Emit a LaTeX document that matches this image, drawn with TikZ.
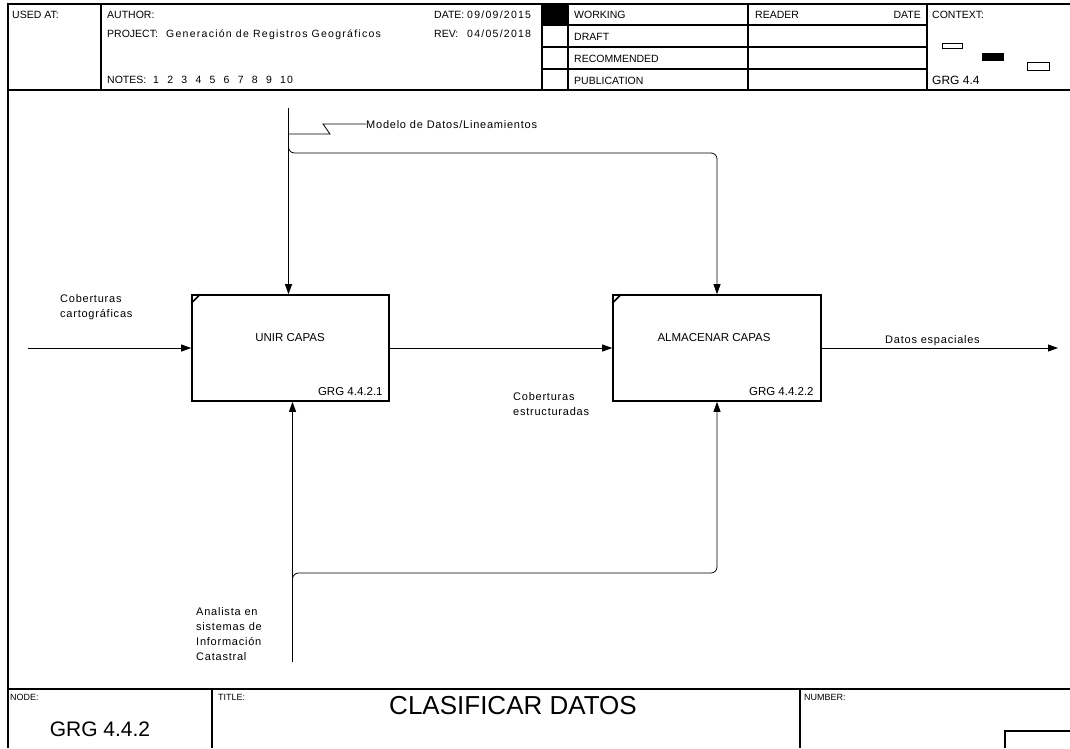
\documentclass[tikz,border=0pt]{standalone}
\usepackage{fontspec}
\setmainfont{Liberation Sans}
\newfontfamily\hdrwide[LetterSpace=12]{Liberation Sans}
\newfontfamily\lblwide[LetterSpace=7]{Liberation Sans}
\usepackage{tikz}
\usetikzlibrary{positioning}
\usetikzlibrary{arrows.meta}

\begin{document}
\begin{tikzpicture}[x=1pt,y=-1pt,
frame/.style={line width=1.2pt},
procbox/.style={rectangle,draw,line width=1.6pt,minimum height=106,inner sep=0},
flow/.style={line width=0.8pt,-{Triangle[length=10pt,width=7pt]}},
hdr/.style={font=\fontsize{10.5}{12}\selectfont,inner sep=0,anchor=base west},
hdrval/.style={font=\hdrwide\fontsize{10.5}{12}\selectfont,inner sep=0,anchor=base west},
boxname/.style={font=\fontsize{11.5}{14}\selectfont,inner sep=0,anchor=base},
boxnum/.style={font=\fontsize{11.5}{14}\selectfont,inner sep=0,anchor=base east},
lbl/.style={font=\lblwide\fontsize{11}{15}\selectfont,inner sep=0,align=left,anchor=north west},
lblone/.style={font=\lblwide\fontsize{11}{15}\selectfont,inner sep=0,anchor=base west},
foot/.style={font=\fontsize{9}{11}\selectfont,inner sep=0,anchor=base west}]
\useasboundingbox (0,0) rectangle (1070,748);

% header frame
\draw[frame] (8,748) -- (8,4) -- (1070,4);
\draw[frame] (8,90) -- (1070,90);
\foreach \xx in {101,542,568,748,927}
    \draw[frame] (\xx,4) -- (\xx,90);
\foreach \yy in {25,47,69}
    \draw[frame] (542,\yy) -- (927,\yy);
\fill (542,4) rectangle (568,25);

% header texts
\node [hdr] (used-at) at (12,18) {USED AT:};
\node [hdr] (author) at (107,18) {AUTHOR:};
\node [hdr] (project) at (107,37) {PROJECT:};
\node [hdrval] (project-val) at (166,37) {Generación de Registros Geográficos};
\node [hdr] (notes) at (107,83) {NOTES:};
\foreach \xx in {1,...,10}
{\pgfmathsetmacro{\px}{153+14.1*(\xx-1)}
    \node [hdrval] (note-\xx) at (\px,83) {\xx};}
\node [hdr] (date) at (434,18) {DATE:};
\node [hdrval] (date-val) at (467,18) {09/09/2015};
\node [hdr] (rev) at (434,37) {REV:};
\node [hdrval] (rev-val) at (467,37) {04/05/2018};
\node [hdr] (working) at (574,18) {WORKING};
\node [hdr] (draft) at (574,40) {DRAFT};
\node [hdr] (recommended) at (574,62) {RECOMMENDED};
\node [hdr] (publication) at (574,84) {PUBLICATION};
\node [hdr] (reader) at (755,18) {READER};
\node [hdr,anchor=base east] (reader-date) at (921,18) {DATE};
\node [hdr] (context) at (932,18) {CONTEXT:};
\node [hdr,font=\fontsize{12}{14}\selectfont] (context-num) at (932,84) {GRG 4.4};
\draw[line width=0.8pt] (942,43) rectangle (962,48);
\fill (982,53) rectangle (1004,61);
\draw[line width=0.8pt] (1027,62) rectangle (1049,70);

% activity boxes
\node [procbox,minimum width=197] (box-1) at (290.5,348) {};
\node [procbox,minimum width=208] (box-2) at (717,348) {};
\node [boxname] (name-1) at (290,341) {UNIR CAPAS};
\node [boxname] (name-2) at (714,341) {ALMACENAR CAPAS};
\node [boxnum] (num-1) at ([xshift=-7pt,yshift=6pt]box-1.south east) {GRG 4.4.2.1};
\node [boxnum] (num-2) at ([xshift=-8pt,yshift=6pt]box-2.south east) {GRG 4.4.2.2};
\draw[line width=1.6pt] ([yshift=-9pt]box-1.north west) -- ([xshift=9pt]box-1.north west);
\draw[line width=1.6pt] ([yshift=-9pt]box-2.north west) -- ([xshift=9pt]box-2.north west);

% inputs and outputs
\coordinate (in-1) at (28,348);
\coordinate (out-1) at (1058,348);
\draw[flow] (in-1) -- (box-1.west);
\draw[flow] (box-1.east) -- (box-2.west);
\draw[flow] (box-2.east) -- (out-1);
\node [lbl] (in-lbl) at (60,294) {Coberturas\\cartográficas};
\node [lbl] (mid-lbl) at (513,392) {Coberturas\\estructuradas};
\node [lblone] (out-lbl) at (885,343) {Datos espaciales};

% control
\coordinate (ctl-top) at ([xshift=-2pt]box-1.north |- 0,108);
\coordinate (ctl-split) at ([xshift=-2pt]box-1.north |- 0,142);
\draw[flow] (ctl-top) -- ([xshift=-2pt]box-1.north);
\draw[flow,rounded corners=6pt] (ctl-split) -- (ctl-split |- 0,153) -- (box-2.north |- 0,153) -- (box-2.north);
\node [lblone] (ctl-lbl) at (366,128) {Modelo de Datos/Lineamientos};
\draw[line width=0.8pt] (ctl-top |- 0,134) -- (330,134) -- (323,124) -- (ctl-lbl.west);

% mechanism
\coordinate (mech-bot) at ([xshift=2pt]box-1.south |- 0,662);
\coordinate (mech-split) at ([xshift=2pt]box-1.south |- 0,586);
\draw[flow] (mech-bot) -- ([xshift=2pt]box-1.south);
\draw[flow,rounded corners=6pt] (mech-split) -- (mech-split |- 0,573) -- (box-2.south |- 0,573) -- (box-2.south);
\node [lbl] (mech-lbl) at (196,607) {Analista en\\sistemas de\\Información\\Catastral};

% footer
\draw[frame] (8,689) -- (1070,689);
\draw[frame] (212,689) -- (212,748);
\draw[frame] (800,689) -- (800,748);
\draw[frame] (1005,748) -- (1005,731) -- (1070,731);
\node [foot] (node-lbl) at (10,700) {NODE:};
\node [foot] (title-lbl) at (218,700) {TITLE:};
\node [foot] (number-lbl) at (804,700) {NUMBER:};
\node [inner sep=0,anchor=base,font=\fontsize{21}{24}\selectfont] (node-num) at (100,736) {GRG 4.4.2};
\node [inner sep=0,anchor=base,font=\fontsize{26}{30}\selectfont] (title) at (513,714) {CLASIFICAR DATOS};
\end{tikzpicture}
\end{document}
